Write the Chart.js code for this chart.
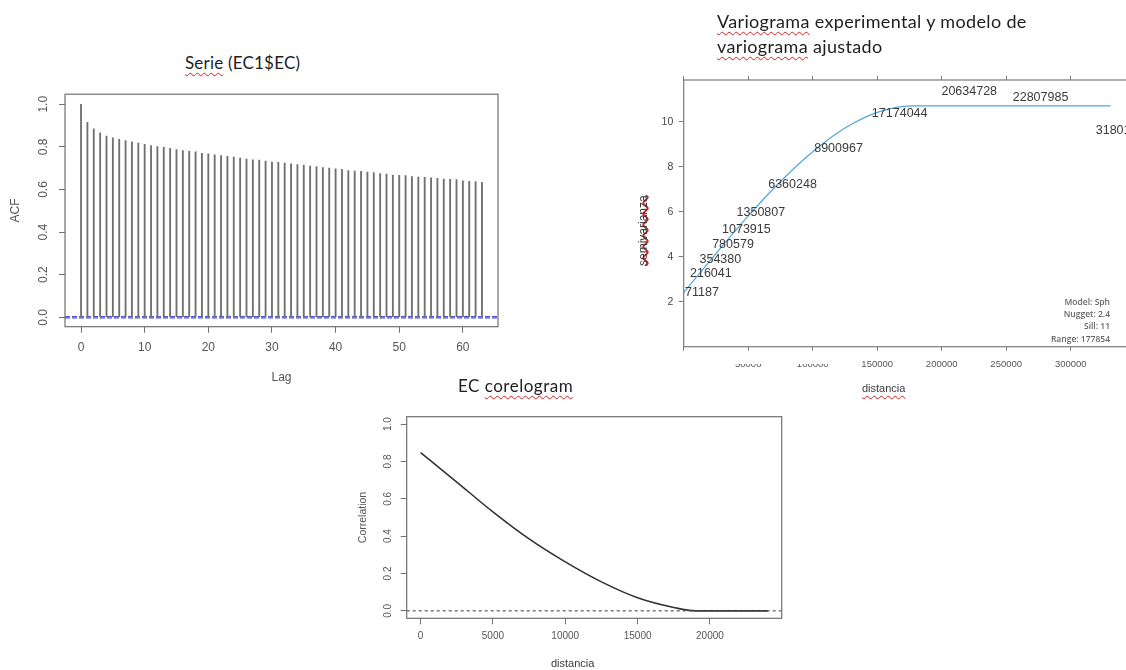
<!DOCTYPE html>
<html><head><meta charset="utf-8">
<script src="https://cdn.jsdelivr.net/npm/chart.js@4.4.0/dist/chart.umd.min.js"></script>
<style>
html,body{margin:0;padding:0;background:#fff;}
#page{position:relative;width:1126px;height:670px;overflow:hidden;background:#fff;}
canvas{position:absolute;}
.t{position:absolute;white-space:nowrap;font-family:"Lato","Open Sans",sans-serif;color:#1e1e1e;}
.sq{text-decoration:underline wavy #d42020;text-decoration-skip-ink:none;text-underline-offset:3px;text-decoration-thickness:1px;}
.ax{position:absolute;white-space:nowrap;font-family:"Liberation Sans",Arial,sans-serif;color:#3a3a3a;font-size:11px;}
</style></head><body><div id="page">
<canvas id="acf" width="515" height="320" style="left:0;top:80px;"></canvas>
<canvas id="vg" width="520" height="355" style="left:620px;top:55px;"></canvas>
<canvas id="cor" width="460" height="270" style="left:340px;top:400px;"></canvas>

<div class="t" style="left:185px;top:52px;font-size:17px;line-height:21px;letter-spacing:0.2px;"><span class="sq">Serie</span> (EC1$EC)</div>
<div class="t" style="left:717px;top:9px;font-size:18px;line-height:25px;letter-spacing:0.35px;"><span class="sq">Variograma</span> experimental y modelo de<br><span class="sq">variograma</span> ajustado</div>
<div class="t" style="left:458px;top:375px;font-size:17px;line-height:21px;letter-spacing:0.5px;">EC <span class="sq">corelogram</span></div>

<div class="ax" style="left:610px;top:226px;width:66px;text-align:center;transform:rotate(-90deg);font-size:12px;"><span class="sq" style="text-decoration-thickness:2px;text-underline-offset:-5px;">semivarianza</span></div>
<div class="ax" style="left:862px;top:382px;"><span class="sq">distancia</span></div>
<div class="ax" style="left:551px;top:657px;"><span class="sq">distancia</span></div>
<div style="position:absolute;left:730px;top:353px;width:100px;height:10.5px;background:#fff;"></div>
<div id="vgInfo" style="position:absolute;left:1000px;top:296px;width:110px;text-align:right;font-family:'Open Sans',sans-serif;font-size:8.5px;font-weight:600;line-height:12.2px;color:#666;"></div>
</div>
<script>
// ---------- ACF (Serie EC1$EC) ----------
const acfLags = [0,1,2,3,4,5,6,7,8,9,10,11,12,13,14,15,16,17,18,19,20,21,22,23,24,25,26,27,28,29,30,31,32,33,34,35,36,37,38,39,40,41,42,43,44,45,46,47,48,49,50,51,52,53,54,55,56,57,58,59,60,61,62,63];
const acfValues = [1.000,0.915,0.884,0.866,0.851,0.842,0.835,0.829,0.823,0.818,0.812,0.806,0.801,0.798,0.793,0.787,0.783,0.780,0.776,0.770,0.767,0.762,0.759,0.756,0.752,0.747,0.742,0.739,0.738,0.733,0.728,0.727,0.724,0.720,0.717,0.714,0.710,0.707,0.703,0.700,0.697,0.694,0.689,0.686,0.685,0.682,0.679,0.675,0.672,0.668,0.666,0.665,0.661,0.658,0.657,0.655,0.652,0.649,0.648,0.646,0.641,0.638,0.637,0.634];
const acfConfLimits = [0.003, -0.003];
const acfXTicks = [0,10,20,30,40,50,60];
const acfYTicks = [0,0.2,0.4,0.6,0.8,1.0];

// ---------- Variogram ----------
const vgDistances = [4260,11120,18490,28290,38640,49880,74420,110080,157480,211400,266670,331000];
const vgSemivariance = [2.40,3.23,3.88,4.56,5.22,5.97,7.22,8.82,10.34,11.33,11.07,9.60];
const vgPairCounts = ['71187','216041','354380','780579','1073915','1350807','6360248','8900967','17174044','20634728','22807985','31801264'];
const vgModelDistances = [0,10000,20000,30000,40000,50000,60000,70000,80000,90000,100000,110000,120000,130000,140000,150000,160000,170000,177854,331000];
const vgModelValues = [2.40,3.10,3.79,4.48,5.15,5.81,6.44,7.05,7.62,8.16,8.66,9.12,9.53,9.88,10.18,10.41,10.58,10.68,10.70,10.70];
const vgXTicks = [0,50000,100000,150000,200000,250000,300000];
const vgYTicks = [2,4,6,8,10];
const vgModelInfo = ['Model: Sph','Nugget: 2.4','Sill: 11','Range: 177854'];

// ---------- Correlogram ----------
const corDistances = [0,2500,5000,7500,10000,12500,15000,17500,19000,24000];
const corValues = [0.848,0.690,0.530,0.385,0.262,0.155,0.070,0.018,0.000,0.000];
const corXTicks = [0,5000,10000,15000,20000];
const corYTicks = [0,0.2,0.4,0.6,0.8,1.0];

document.getElementById('vgInfo').innerHTML = vgModelInfo.join('<br>');

const FONT = 'Liberation Sans, Arial, sans-serif';
const rBox = {
  id: 'rbox',
  afterDatasetsDraw(chart, args, opts) {
    const {ctx, chartArea: a} = chart;
    ctx.save();
    ctx.strokeStyle = opts.color || '#777';
    ctx.lineWidth = opts.width || 1;
    ctx.strokeRect(a.left, a.top, a.right - a.left, a.bottom - a.top);
    ctx.restore();
  }
};
const pointText = {
  id: 'pointText',
  afterDatasetsDraw(chart, args, opts) {
    if (!opts || !opts.labels) return;
    const {ctx} = chart;
    const xs = chart.scales.x, ys = chart.scales.y;
    const ds = chart.data.datasets[opts.datasetIndex];
    ctx.save();
    ctx.font = opts.font;
    ctx.fillStyle = opts.color;
    ctx.textAlign = 'center';
    ctx.textBaseline = 'middle';
    ds.data.forEach((p, i) => {
      ctx.fillText(opts.labels[i], xs.getPixelForValue(p.x + opts.shift), ys.getPixelForValue(p.y));
    });
    ctx.restore();
  }
};
const setTicks = arr => (s => { s.ticks = arr.map(v => ({value: v})); });
const common = {
  responsive: false, animation: false, devicePixelRatio: 1,
  events: []
};

// ACF chart
new Chart(document.getElementById('acf'), {
  type: 'bar',
  data: {
    datasets: [
      {type: 'bar', data: acfLags.map((l, i) => ({x: l, y: acfValues[i]})), backgroundColor: '#707070', barThickness: 1.2, borderWidth: 0},
      {type: 'line', data: [{x: -2.52, y: acfConfLimits[0]}, {x: 65.52, y: acfConfLimits[0]}], borderColor: '#3030c8', borderWidth: 1, borderDash: [5, 2], pointRadius: 0},
      {type: 'line', data: [{x: -2.52, y: acfConfLimits[1]}, {x: 65.52, y: acfConfLimits[1]}], borderColor: '#3030c8', borderWidth: 1, borderDash: [5, 2], pointRadius: 0}
    ]
  },
  options: Object.assign({}, common, {
    layout: {padding: {top: 12.7, right: 17, left: 0, bottom: 0}},
    plugins: {legend: {display: false}, tooltip: {enabled: false}, rbox: {color: '#707070', width: 1.2}},
    scales: {
      x: {type: 'linear', min: -2.52, max: 65.52, offset: false,
        afterBuildTicks: setTicks(acfXTicks), afterFit: s => { s.height = 73.3; },
        grid: {drawOnChartArea: false, drawTicks: true, tickLength: 6, color: '#707070', offset: false},
        border: {display: false},
        ticks: {font: {family: FONT, size: 12}, color: '#555', padding: 8, autoSkip: false, maxRotation: 0, callback: v => String(v)},
        title: {display: true, text: 'Lag', font: {family: FONT, size: 12}, color: '#555', padding: {top: 0, bottom: 14.8}}
      },
      y: {type: 'linear', min: -0.044, max: 1.047,
        afterBuildTicks: setTicks(acfYTicks), afterFit: s => { s.width = 65; },
        grid: {drawOnChartArea: false, drawTicks: true, tickLength: 6, color: '#707070'},
        border: {display: false},
        ticks: {font: {family: FONT, size: 12}, color: '#555', padding: 7, minRotation: 90, maxRotation: 90, crossAlign: 'center', callback: v => v.toFixed(1)},
        title: {display: true, text: 'ACF', font: {family: FONT, size: 12}, color: '#555', padding: {top: 8.8, bottom: 0}}
      }
    }
  }),
  plugins: [rBox]
});

// Variogram chart
const vgMaxDist = Math.max(...vgDistances);
new Chart(document.getElementById('vg'), {
  type: 'line',
  data: {
    datasets: [
      {type: 'line', data: vgModelDistances.map((d, i) => ({x: d, y: vgModelValues[i]})), borderColor: '#55a6dc', borderWidth: 1.2, pointRadius: 0, cubicInterpolationMode: 'monotone'},
      {type: 'scatter', data: vgDistances.map((d, i) => ({x: d, y: vgSemivariance[i]})), pointRadius: 0, showLine: false}
    ]
  },
  options: Object.assign({}, common, {
    layout: {padding: {top: 20, right: 12.2, left: 0, bottom: 0}},
    plugins: {legend: {display: false}, tooltip: {enabled: false}, rbox: {color: '#7a7a7a', width: 1.2},
      pointText: {datasetIndex: 1, labels: vgPairCounts, shift: 0.03 * vgMaxDist, font: '12.5px ' + FONT, color: '#3a3a3a'}},
    scales: {
      x: {type: 'linear', position: 'bottom', min: 0, max: 344240,
        afterBuildTicks: setTicks(vgXTicks), afterFit: s => { s.height = 63.3; },
        grid: {drawOnChartArea: false, drawTicks: true, tickLength: 4, color: '#7a7a7a'},
        border: {display: false},
        ticks: {font: {family: FONT, size: 9.5}, color: '#555', padding: 8, autoSkip: false, maxRotation: 0, callback: v => v === 0 ? '' : String(v)}
      },
      x2: {type: 'linear', position: 'top', min: 0, max: 344240,
        afterBuildTicks: setTicks(vgXTicks), afterFit: s => { s.height = 5; },
        grid: {drawOnChartArea: false, drawTicks: true, tickLength: 4, color: '#7a7a7a'},
        border: {display: false},
        ticks: {display: false}
      },
      y: {type: 'linear', min: 0, max: 11.85,
        afterBuildTicks: setTicks(vgYTicks), afterFit: s => { s.width = 63.7; },
        grid: {drawOnChartArea: false, drawTicks: true, tickLength: 5, color: '#7a7a7a'},
        border: {display: false},
        ticks: {font: {family: FONT, size: 10.5}, color: '#444', padding: 5.4}
      }
    }
  }),
  plugins: [rBox, pointText]
});

// Correlogram chart
new Chart(document.getElementById('cor'), {
  type: 'line',
  data: {
    datasets: [
      {data: [{x: -960, y: 0}, {x: 24960, y: 0}], borderColor: '#555', borderWidth: 1.2, borderDash: [3, 3], pointRadius: 0},
      {data: corDistances.map((d, i) => ({x: d, y: corValues[i]})), borderColor: '#333', borderWidth: 1.6, pointRadius: 0, cubicInterpolationMode: 'monotone'}
    ]
  },
  options: Object.assign({}, common, {
    layout: {padding: {top: 16.7, right: 18.3, left: 0, bottom: 0}},
    plugins: {legend: {display: false}, tooltip: {enabled: false}, rbox: {color: '#707070', width: 1.2}},
    scales: {
      x: {type: 'linear', min: -960, max: 24960,
        afterBuildTicks: setTicks(corXTicks), afterFit: s => { s.height = 51.7; },
        grid: {drawOnChartArea: false, drawTicks: true, tickLength: 6, color: '#707070'},
        border: {display: false},
        ticks: {font: {family: FONT, size: 10}, color: '#555', padding: 6.4, autoSkip: false, maxRotation: 0, callback: v => String(v)}
      },
      y: {type: 'linear', min: -0.04, max: 1.04,
        afterBuildTicks: setTicks(corYTicks), afterFit: s => { s.width = 66.7; },
        grid: {drawOnChartArea: false, drawTicks: true, tickLength: 6, color: '#707070'},
        border: {display: false},
        ticks: {font: {family: FONT, size: 10}, color: '#555', padding: 5, minRotation: 90, maxRotation: 90, crossAlign: 'center', callback: v => v.toFixed(1)},
        title: {display: true, text: 'Correlation', font: {family: FONT, size: 10.5}, color: '#555', padding: {top: 16.4, bottom: 0}}
      }
    }
  }),
  plugins: [rBox]
});
</script>
</body></html>
